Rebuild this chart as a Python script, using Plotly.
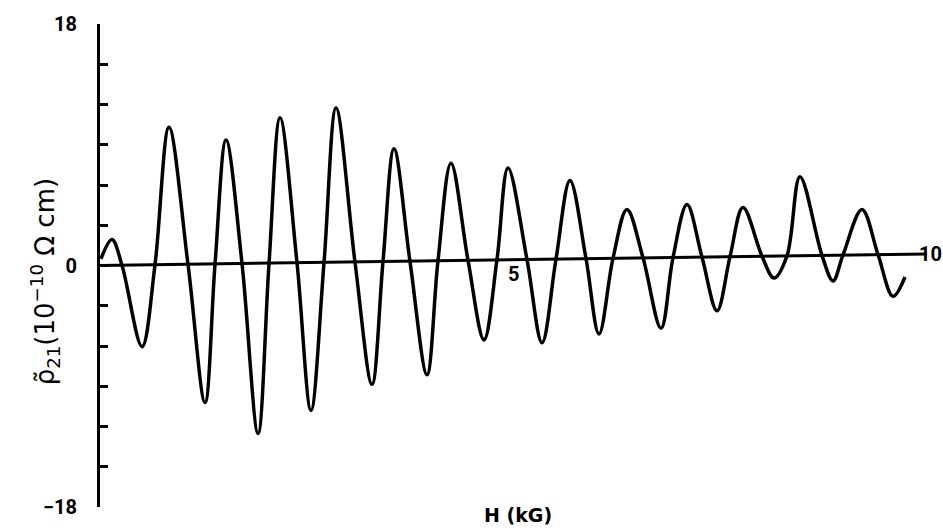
import plotly.graph_objects as go

# Oscillatory Hall resistivity vs magnetic field: extrema and axis crossings
H_KG = [0.012, 0.145, 0.266, 0.508, 0.665, 0.834, 1.064, 1.270, 1.391, 1.524,
        1.717, 1.911, 2.044, 2.177, 2.382, 2.551, 2.709, 2.854, 3.083, 3.289,
        3.422, 3.555, 3.748, 3.954, 4.087, 4.244, 4.450, 4.643, 4.800, 4.934,
        5.163, 5.345, 5.514, 5.683, 5.877, 6.034, 6.203, 6.372, 6.566, 6.784,
        6.929, 7.098, 7.279, 7.461, 7.618, 7.775, 8.005, 8.150, 8.307, 8.464,
        8.730, 8.863, 8.984, 9.214, 9.408, 9.589, 9.734]
RHO_21 = [0.50, 1.94, 0.02, -6.05, 0.06, 10.30, 0.09, -10.22, 0.12, 9.36,
          0.15, -12.53, 0.18, 11.02, 0.21, -10.80, 0.23, 11.74, 0.27, -8.86,
          0.30, 8.71, 0.32, -8.14, 0.35, 7.63, 0.38, -5.54, 0.42, 7.27,
          0.45, -5.76, 0.48, 6.34, 0.50, -5.11, 0.53, 4.18, 0.57, -4.68,
          0.60, 4.54, 0.63, -3.38, 0.66, 4.32, 0.69, -0.94, 0.72, 6.62,
          0.76, -1.15, 0.78, 4.18, 0.81, -2.30, -0.86]

# Field axis as ruled on the sheet (slightly rising towards 10 kG)
AXIS_H = [0, 10]
AXIS_RHO = [0, 0.86]

Y_TICKS = [-18, 0, 18]
Y_TICK_TEXT = ["\u221218", "0", "18"]

FONT = "Liberation Sans Narrow, Roboto, DejaVu Sans"
TITLE_FONT = "DejaVu Sans"

fig = go.Figure()

fig.add_trace(go.Scatter(
    x=AXIS_H, y=AXIS_RHO, mode="lines",
    line=dict(color="black", width=3), hoverinfo="skip", showlegend=False,
))

fig.add_trace(go.Scatter(
    x=H_KG, y=RHO_21, mode="lines",
    line=dict(color="black", width=3.5, shape="spline", smoothing=1.0),
    showlegend=False,
))

fig.update_xaxes(
    range=[0, 10], showline=False, showgrid=False, zeroline=False,
    showticklabels=False, ticks="",
)
fig.update_yaxes(
    range=[-18, 18], showline=True, linecolor="black", linewidth=3,
    showgrid=False, zeroline=False,
    tickmode="array", tickvals=Y_TICKS, ticktext=Y_TICK_TEXT,
    ticks="inside", ticklen=8, tickwidth=3, tickcolor="black",
    minor=dict(dtick=3, ticks="inside", ticklen=8, tickwidth=3, tickcolor="black"),
    tickfont=dict(family=FONT, size=20, color="black", weight="bold"),
    ticklabelstandoff=16,
)

# field-axis labels
fig.add_annotation(x=5, y=0.5, text="5", showarrow=False, yanchor="top",
                   yshift=-1,
                   font=dict(family=FONT, size=20, color="black", weight="bold"))
fig.add_annotation(x=1, xref="paper", y=0.86, text="10", showarrow=False,
                   xanchor="right", xshift=17,
                   font=dict(family=FONT, size=20, color="black", weight="bold"))

fig.add_annotation(
    x=0.505, y=0, xref="paper", yref="paper", text="H (kG)", showarrow=False,
    xanchor="center", yanchor="bottom", yshift=-21,
    font=dict(family=TITLE_FONT, size=19, color="black", weight="bold"),
)

fig.add_annotation(
    text="\u03c1\u0303<sub>21</sub>(10<sup>\u221210</sup> \u03a9 cm)",
    xref="paper", yref="paper", x=-0.066, y=0.466, showarrow=False,
    xanchor="center", yanchor="middle",
    textangle=-90, font=dict(family=TITLE_FONT, size=26, color="black"),
)

fig.update_layout(
    width=943, height=531,
    margin=dict(l=100, r=16, t=15, b=16),
    plot_bgcolor="white", paper_bgcolor="white",
)

fig.write_html("out.html")
